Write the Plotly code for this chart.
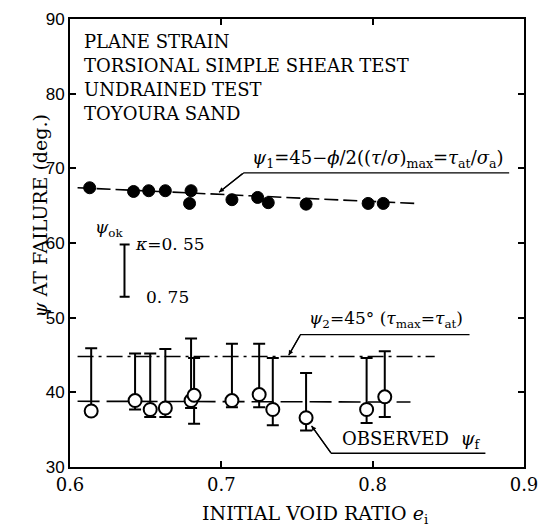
import plotly.graph_objects as go

# ---- data ----
e_psi1 = [0.613, 0.642, 0.652, 0.663, 0.680, 0.679, 0.707, 0.724, 0.731, 0.756, 0.797, 0.807]
psi1 = [67.4, 66.9, 67.0, 67.0, 67.0, 65.3, 65.8, 66.1, 65.4, 65.2, 65.3, 65.3]

e_obs = [0.614, 0.643, 0.653, 0.663, 0.680, 0.682, 0.707, 0.725, 0.734, 0.756, 0.796, 0.808]
psi_obs = [37.5, 38.9, 37.7, 37.9, 38.9, 39.6, 38.9, 39.7, 37.7, 36.6, 37.7, 39.4]
psi_upper = [45.9, 45.2, 45.2, 45.8, 47.2, 44.6, 46.5, 46.5, 44.6, 42.6, 44.6, 45.5]
psi_lower = [37.0, 37.7, 36.7, 36.7, 37.9, 35.8, 38.0, 38.0, 35.6, 34.9, 35.9, 36.7]

psi1_fit_e = [0.605, 0.828]
psi1_fit = [67.4, 65.3]
psi2_e = [0.605, 0.841]
psi2 = [44.8, 44.8]
obs_mean_e = [0.605, 0.825]
obs_mean = [38.8, 38.7]

psi_ok_e = [0.636]
psi_ok_top = [59.8]
psi_ok_bottom = [52.8]

x_ticks = [0.6, 0.7, 0.8, 0.9]
y_ticks = [30, 40, 50, 60, 70, 80, 90]
info_lines = ["PLANE STRAIN", "TORSIONAL SIMPLE SHEAR TEST", "UNDRAINED TEST", "TOYOURA SAND"]

SERIF = "DejaVu Serif"
BLACK = "black"

err_plus = [u - y for u, y in zip(psi_upper, psi_obs)]
err_minus = [y - l for y, l in zip(psi_obs, psi_lower)]

fig = go.Figure()

fig.add_trace(go.Scatter(x=psi1_fit_e, y=psi1_fit, mode="lines",
                         line=dict(color=BLACK, width=1.6, dash="14px,5px"), showlegend=False))
fig.add_trace(go.Scatter(x=psi2_e, y=psi2, mode="lines",
                         line=dict(color=BLACK, width=1.6, dash="16px,5px,3px,5px"), showlegend=False))
fig.add_trace(go.Scatter(x=obs_mean_e, y=obs_mean, mode="lines",
                         line=dict(color=BLACK, width=1.6, dash="22px,7px"), showlegend=False))

fig.add_trace(go.Scatter(x=e_psi1, y=psi1, mode="markers",
                         marker=dict(symbol="circle", size=12, color=BLACK,
                                     line=dict(color=BLACK, width=1)),
                         showlegend=False))

fig.add_trace(go.Scatter(x=e_obs, y=psi_obs, mode="markers",
                         marker=dict(symbol="circle", size=13, color="white",
                                     line=dict(color=BLACK, width=2)),
                         error_y=dict(type="data", symmetric=False, array=err_plus,
                                      arrayminus=err_minus, color=BLACK, thickness=2, width=6),
                         showlegend=False))

# legend-like psi_ok range bar
fig.add_trace(go.Scatter(x=psi_ok_e + psi_ok_e, y=psi_ok_top + psi_ok_bottom, mode="lines",
                         line=dict(color=BLACK, width=2), showlegend=False))

shapes = []
for yv in (psi_ok_top[0], psi_ok_bottom[0]):
    shapes.append(dict(type="line", xref="x", yref="y", x0=0.6328, x1=0.6394, y0=yv, y1=yv,
                       line=dict(color=BLACK, width=2)))

def leader(pts):
    path = "M " + " L ".join(f"{x},{y}" for x, y in pts)
    return dict(type="path", xref="x", yref="y", path=path, line=dict(color=BLACK, width=1.3))

shapes.append(leader([(0.6985, 66.8), (0.7149, 69.4), (0.8902, 69.4)]))
shapes.append(leader([(0.7445, 44.97), (0.7523, 47.72), (0.864, 47.72)]))
shapes.append(leader([(0.7596, 35.51), (0.7727, 31.84), (0.8745, 31.84)]))

annotations = []
# info block
for txt, yv in zip(info_lines, [86.98, 83.83, 80.55, 77.4]):
    annotations.append(dict(x=0.6079, y=yv, xref="x", yref="y", text=txt, showarrow=False,
                            xanchor="left", yanchor="middle",
                            font=dict(family=SERIF, size=18, color=BLACK)))

annotations.append(dict(x=0.8035, y=71.3, xref="x", yref="y", showarrow=False,
                        text="<i>ψ</i><sub>1</sub>=45−<i>ϕ</i>/2((<i>τ</i>/<i>σ</i>)<sub>max</sub>=<i>τ</i><sub>at</sub>/<i>σ</i><sub>a</sub>)",
                        font=dict(family=SERIF, size=18, color=BLACK)))
annotations.append(dict(x=0.8088, y=49.8, xref="x", yref="y", showarrow=False,
                        text="<i>ψ</i><sub>2</sub>=45° (<i>τ</i><sub>max</sub>=<i>τ</i><sub>at</sub>)",
                        font=dict(family=SERIF, size=17, color=BLACK)))
annotations.append(dict(x=0.8259, y=33.6, xref="x", yref="y", showarrow=False,
                        text="OBSERVED  <i>ψ</i><sub>f</sub>",
                        font=dict(family=SERIF, size=18, color=BLACK)))
annotations.append(dict(x=0.6263, y=61.9, xref="x", yref="y", showarrow=False,
                        text="<i>ψ</i><sub>ok</sub>",
                        font=dict(family=SERIF, size=17, color=BLACK)))
annotations.append(dict(x=0.6414, y=59.8, xref="x", yref="y", showarrow=False, xanchor="left",
                        text="<i>κ</i>=0. 55",
                        font=dict(family=SERIF, size=17, color=BLACK)))
annotations.append(dict(x=0.6492, y=52.8, xref="x", yref="y", showarrow=False, xanchor="left",
                        text="0. 75",
                        font=dict(family=SERIF, size=17, color=BLACK)))

# arrowheads on leaders
for (tx, ty, ax, ay) in [(0.6985, 66.8, 25, -20), (0.7445, 44.97, 12, -21), (0.7596, 35.51, 20, 28)]:
    annotations.append(dict(x=tx, y=ty, xref="x", yref="y", text="", showarrow=True,
                            ax=ax, ay=ay, arrowhead=2, arrowsize=0.8, arrowwidth=1.2,
                            arrowcolor=BLACK, standoff=0))

# y-axis title
annotations.append(dict(x=-0.094, y=0.56, xref="paper", yref="paper", showarrow=False,
                        textangle=-90, text="<i>ψ</i> AT FAILURE (deg.)",
                        font=dict(family=SERIF, size=19, color=BLACK)))
# x-axis title
annotations.append(dict(x=0.54, y=-0.105, xref="paper", yref="paper", showarrow=False,
                        yanchor="middle",
                        text="INITIAL VOID RATIO <i>e</i><sub>i</sub>",
                        font=dict(family=SERIF, size=19, color=BLACK)))

fig.update_layout(
    width=548, height=528, autosize=False,
    margin=dict(l=70, r=21, t=10, b=61),
    paper_bgcolor="white", plot_bgcolor="white",
    shapes=shapes, annotations=annotations,
    xaxis=dict(range=[0.6, 0.9], tickvals=x_ticks, ticktext=[f"{v:.1f}" for v in x_ticks],
               showgrid=False, zeroline=False, showline=True, linecolor=BLACK, linewidth=2,
               mirror="ticks", ticks="inside", ticklen=6, tickwidth=1.5, tickcolor=BLACK,
               tickfont=dict(family=SERIF, size=18, color=BLACK)),
    yaxis=dict(range=[30, 90], tickvals=y_ticks,
               showgrid=False, zeroline=False, showline=True, linecolor=BLACK, linewidth=2,
               mirror="ticks", ticks="inside", ticklen=6, tickwidth=1.5, tickcolor=BLACK,
               tickfont=dict(family="Liberation Sans", size=17, color=BLACK)),
)

fig.write_html("out.html", config={"displayModeBar": False},
               post_script="document.body.style.margin='0';document.body.style.overflow='hidden';")
